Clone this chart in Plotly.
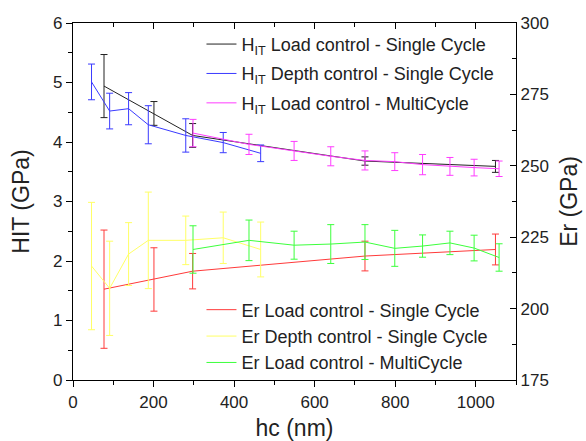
import plotly.graph_objects as go

# ---- data ----
# Load control - single cycle
x_lc = [77, 201, 297, 725, 1049]
hit_lc = [4.94, 4.48, 4.11, 3.68, 3.59]
hit_lc_err = [0.53, 0.20, 0.20, 0.07, 0.10]
er_lc = [206.8, 210.2, 213.1, 218.4, 220.7]
er_lc_err = [20.7, 11.1, 6.2, 5.2, 5.4]

# Depth control - single cycle
x_dc = [46, 91, 138, 187, 280, 373, 466]
hit_dc = [5.01, 4.52, 4.56, 4.29, 4.11, 3.99, 3.81]
hit_dc_err = [0.30, 0.30, 0.27, 0.32, 0.28, 0.17, 0.14]
er_dc = [214.9, 207.1, 219.1, 223.9, 223.9, 224.8, 220.7]
er_dc_err = [22.3, 16.5, 11.0, 16.9, 8.5, 9.0, 9.6]

# Load control - multicycle
x_mc = [298, 437, 549, 640, 725, 799, 868, 936, 996, 1058]
hit_mc = [4.15, 3.96, 3.85, 3.76, 3.69, 3.67, 3.62, 3.59, 3.57, 3.55]
hit_mc_err = [0.23, 0.17, 0.16, 0.16, 0.16, 0.15, 0.17, 0.15, 0.14, 0.13]
er_mc = [220.7, 223.9, 222.2, 222.6, 223.3, 221.1, 221.9, 223.0, 221.2, 217.9]
er_mc_err = [8.3, 7.1, 4.9, 6.8, 6.1, 6.3, 3.9, 4.1, 4.5, 4.8]

names_hit = ["H<sub>IT</sub> Load control - Single Cycle",
             "H<sub>IT</sub> Depth control - Single Cycle",
             "H<sub>IT</sub> Load control - MultiCycle"]
names_er = ["Er Load control - Single Cycle",
            "Er Depth control - Single Cycle",
            "Er Load control - MultiCycle"]

FONT = "Liberation Sans, Arial, sans-serif"

fig = go.Figure()

def add(x, y, e, name, color, yaxis, legend, group):
    fig.add_trace(go.Scatter(
        x=x, y=y, mode="lines", name=name,
        line=dict(color=color, width=1),
        error_y=dict(type="data", array=e, visible=True, color=color,
                     thickness=1, width=3.5),
        yaxis=yaxis, legend=legend, legendgroup=group,
    ))

add(x_lc, hit_lc, hit_lc_err, names_hit[0], "#222222", "y", "legend", "h1")
add(x_dc, hit_dc, hit_dc_err, names_hit[1], "#3A3AFF", "y", "legend", "h2")
add(x_mc, hit_mc, hit_mc_err, names_hit[2], "#FF3CFF", "y", "legend", "h3")
add(x_lc, er_lc, er_lc_err, names_er[0], "#FF3A3A", "y2", "legend2", "e1")
add(x_dc, er_dc, er_dc_err, names_er[1], "#FFFF66", "y2", "legend2", "e2")
add(x_mc, er_mc, er_mc_err, names_er[2], "#3CFF3C", "y2", "legend2", "e3")

# dummy trace to draw top axis
fig.add_trace(go.Scatter(x=[0], y=[0], xaxis="x2", yaxis="y", mode="markers",
                         marker=dict(opacity=0), showlegend=False, hoverinfo="skip"))

axis_common = dict(showline=True, linecolor="black", linewidth=1.3, showgrid=False,
                   zeroline=False, tickcolor="black", automargin=False,
                   tickfont=dict(size=17, family=FONT, color="#222"))

fig.update_layout(
    width=586, height=441,
    margin=dict(l=73, r=70, t=23, b=61),
    paper_bgcolor="white", plot_bgcolor="white",
    font=dict(family=FONT, color="#222"),
    xaxis=dict(range=[0, 1100], tickvals=[0, 200, 400, 600, 800, 1000], ticks="outside", ticklen=6,
               minor=dict(ticks="outside", dtick=100, ticklen=4, tickcolor="black"),
               title=dict(text="hc (nm)", font=dict(size=23, family=FONT), standoff=10),
               **axis_common),
    xaxis2=dict(range=[0, 1100], overlaying="x", side="top", anchor="y", ticks="inside", ticklen=6,
                dtick=200, showticklabels=False,
                minor=dict(ticks="inside", dtick=100, ticklen=4, tickcolor="black"),
                **axis_common),
    yaxis=dict(range=[0, 6], dtick=1, ticks="outside", ticklen=6,
               minor=dict(ticks="outside", dtick=0.5, ticklen=4, tickcolor="black"),
               title=dict(text="HIT (GPa)", font=dict(size=23, family=FONT), standoff=16),
               **axis_common),
    yaxis2=dict(range=[175, 300], dtick=25, overlaying="y", side="right", anchor="x",
                ticks="inside", ticklen=6,
                minor=dict(ticks="inside", dtick=12.5, ticklen=4, tickcolor="black"),
                title=dict(text="Er (GPa)", font=dict(size=23, family=FONT), standoff=12),
                **axis_common),
    legend=dict(x=0.29, y=0.992, xanchor="left", yanchor="top", bgcolor="rgba(0,0,0,0)",
                font=dict(size=18, family=FONT, color="#222"), traceorder="grouped",
                tracegroupgap=3, itemwidth=30),
    legend2=dict(x=0.29, y=0.248, xanchor="left", yanchor="top", bgcolor="rgba(0,0,0,0)",
                 font=dict(size=18, family=FONT, color="#222"), traceorder="grouped",
                 tracegroupgap=0, itemwidth=30),
    showlegend=True,
)

fig.write_html("out.html", config={"displayModeBar": False},
               post_script="document.body.style.margin='0';document.body.style.overflow='hidden';")
